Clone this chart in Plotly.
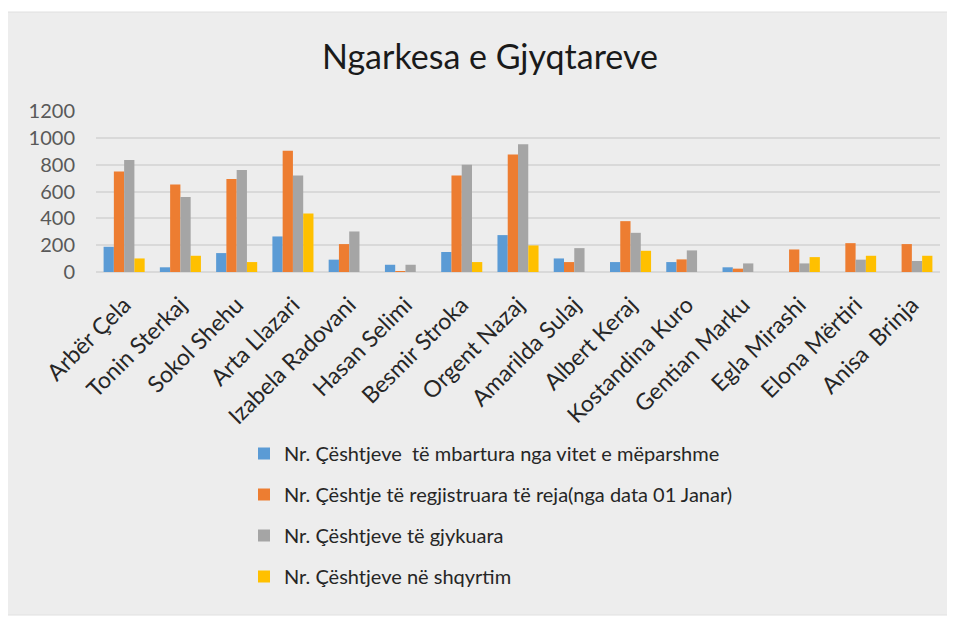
import plotly.graph_objects as go

# judges (category axis)
judges = ["Arbër Çela", "Tonin Sterkaj", "Sokol Shehu", "Arta Llazari", "Izabela Radovani",
          "Hasan Selimi", "Besmir Stroka", "Orgent Nazaj", "Amarilda Sulaj", "Albert Keraj",
          "Kostandina Kuro", "Gentian Marku", "Egla Mirashi", "Elona Mërtiri", "Anisa \u00a0Brinja"]

series_names = [
    "Nr. Çështjeve \u00a0të mbartura nga vitet e mëparshme",
    "Nr. Çështje të regjistruara të reja(nga data 01 Janar)",
    "Nr. Çështjeve të gjykuara",
    "Nr. Çështjeve në shqyrtim",
]

carried_over = [188, 35, 141, 265, 92, 54, 149, 275, 101, 74, 74, 35, 0, 0, 0]
new_registered = [750, 653, 693, 903, 208, 7, 720, 876, 74, 379, 94, 25, 168, 215, 208]
judged = [834, 559, 760, 720, 302, 54, 800, 953, 178, 292, 161, 64, 64, 92, 82]
pending = [101, 121, 74, 436, 0, 0, 74, 198, 0, 158, 0, 0, 111, 121, 121]

colors = ["#5B9BD5", "#ED7D31", "#A5A5A5", "#FFC000"]
font = "Lato, 'Open Sans', sans-serif"

fig = go.Figure()
for i, (name, vals) in enumerate(zip(series_names, [carried_over, new_registered, judged, pending])):
    fig.add_trace(go.Bar(x=judges, y=vals, name=name, marker_color=colors[i],
                         marker_line_width=0, legendgroup=str(i)))

# page body has an 8px margin, so figure px = window px - 8
W, H = 947, 617
L, R, T, B = 88, 15, 103, 353
pw, ph = W - L - R, H - T - B

def px_x(x):
    return (x - L) / pw

def px_y(y):
    return (H - B - y) / ph

fig.add_shape(type="rect", xref="paper", yref="paper", layer="below",
              x0=px_x(-3), x1=px_x(942), y0=px_y(607), y1=px_y(4),
              fillcolor="#EDEDED", line=dict(color="#E0E0E0", width=1))

fig.update_layout(
    width=W, height=H,
    margin=dict(l=L, r=R, t=T, b=B),
    paper_bgcolor="white", plot_bgcolor="rgba(0,0,0,0)",
    barmode="group", bargap=0.27, bargroupgap=0,
    font=dict(family=font, color="#404040"),
    title=dict(text="Ngarkesa e Gjyqtareve", x=482 / W, xanchor="center",
               y=1 - 49 / H, yanchor="middle", yref="container",
               font=dict(size=34, color="#1a1a1a", family=font)),
    xaxis=dict(tickangle=-45, tickfont=dict(size=23, color="#262626"),
               showgrid=False, showline=False, ticks="", ticklabelstandoff=14),
    yaxis=dict(range=[0, 1200], dtick=200, tickfont=dict(size=20, color="#595959"),
               gridcolor="#D9D9D9", gridwidth=2, zeroline=True, zerolinecolor="#D9D9D9",
               zerolinewidth=2, showline=False, ticklabelstandoff=20),
    showlegend=True,
    legend=dict(orientation="v", x=px_x(236), xanchor="left", y=px_y(426), yanchor="top",
                font=dict(size=20, color="#262626"), tracegroupgap=12,
                bgcolor="rgba(0,0,0,0)", itemwidth=30),
)

fig.write_html("out.html")
